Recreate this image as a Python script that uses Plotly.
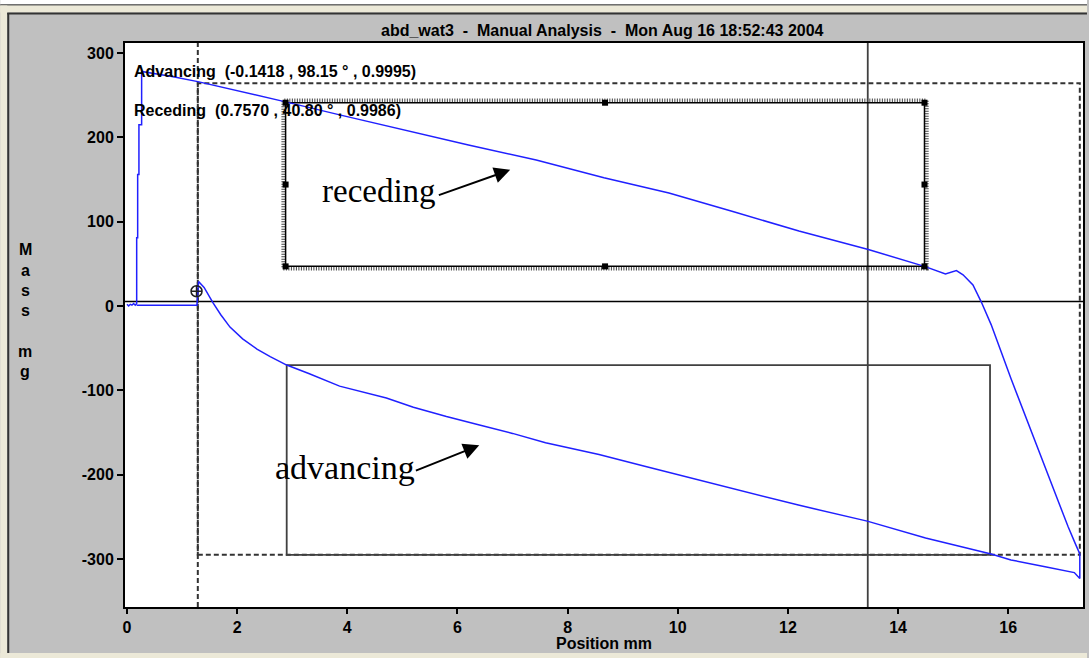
import plotly.graph_objects as go

# ---- measurement data (position in mm, mass in mg) ----
approach_pos = [0.176, 1.27]
approach_mass = [1, 1]

advancing_pos = [1.27, 1.30, 1.40, 1.56, 1.70, 1.87, 2.10, 2.36, 2.60, 2.90, 3.30,
                 3.86, 4.30, 4.71, 5.20, 5.80, 6.40, 7.00, 7.60, 8.57, 9.40, 10.38,
                 11.20, 12.19, 13.44, 14.50, 15.69, 16.05, 16.67, 17.20, 17.30]
advancing_mass = [1, 29, 22, 4, -10, -25, -39, -51, -60, -70, -80,
                  -95, -102, -109, -120, -131, -141, -151, -162, -176, -190, -206,
                  -220, -236, -255, -275, -294, -301, -309, -316, -323]

receding_pos = [17.30, 17.22, 17.09, 16.90, 16.72, 16.60, 16.42, 16.23, 16.05, 15.87,
                15.69, 15.51, 15.36, 15.18, 15.06, 14.86, 14.48, 13.46, 12.20, 11.00,
                9.84, 8.66, 7.43, 6.20, 5.00, 3.90, 2.88, 2.00, 1.286, 0.815, 0.266]
receding_mass = [-294, -282, -262, -230, -200, -179, -149, -117, -86, -54,
                 -22, 5, 25, 37, 42, 38, 47, 67, 89, 112,
                 134, 152, 173, 191, 209, 226, 242, 255, 266, 272, 278]

detach_pos = [0.266, 0.217, 0.217, 0.194, 0.194, 0.176, 0.176, 0.15, 0.12, 0.09, 0.06, 0.03, 0.0]
detach_mass = [215, 215, 156, 156, 81, 81, 3, 1, 3, 1, 2, 0, 2]

x_ticks = [0, 2, 4, 6, 8, 10, 12, 14, 16]
y_ticks = [-300, -200, -100, 0, 100, 200, 300]

title_text = "abd_wat3\u00a0\u00a0-\u00a0\u00a0Manual Analysis\u00a0\u00a0-\u00a0\u00a0Mon Aug 16 18:52:43 2004"
adv_fit_text = "Advancing\u00a0\u00a0(-0.1418 , 98.15 \u00b0 , 0.9995)"
rec_fit_text = "Receding\u00a0\u00a0(0.7570 , 40.80 \u00b0 , 0.9986)"

# analysis markers
cursor_x = 13.45          # solid vertical cursor
contact_x = 1.286         # dashed contact line
baseline_y = 5.3          # solid horizontal baseline
fit_window = dict(x0=contact_x, x1=17.30, y0=-295, y1=264)
rec_sel = dict(x0=2.88, x1=14.48, y0=47, y1=241)
adv_sel = dict(x0=2.90, x1=15.67, y0=-295, y1=-70)
contact_point = (1.263, 17.5)

X_RANGE = [-0.036, 17.358]
Y_RANGE = [-356.8, 311.8]

W, H = 1089, 658
ML, MR, MT, MB = 125, 4, 43, 51
PW, PH = W - ML - MR, H - MT - MB


def px(xp):
    return (xp - ML) / PW


def py(yp):
    return (H - MB - yp) / PH


GRAY = "#C0C0C0"
DARK = "#333333"
BOLD = dict(family="Liberation Sans, Arial, sans-serif", size=16, color="black", weight="bold")

pos = approach_pos + advancing_pos + receding_pos + detach_pos
mass = approach_mass + advancing_mass + receding_mass + detach_mass

fig = go.Figure()
fig.add_trace(go.Scatter(x=pos, y=mass, mode="lines",
                         line=dict(color="#2020ff", width=1.5), hoverinfo="skip"))

# selection handles on the receding window
hx = [rec_sel["x0"], (rec_sel["x0"] + rec_sel["x1"]) / 2, rec_sel["x1"]]
hy = [rec_sel["y0"], (rec_sel["y0"] + rec_sel["y1"]) / 2, rec_sel["y1"]]
handles_x, handles_y = [], []
for yy in hy:
    for xx in hx:
        if yy == hy[1] and xx == hx[1]:
            continue
        handles_x.append(xx)
        handles_y.append(yy)
fig.add_trace(go.Scatter(x=handles_x, y=handles_y, mode="markers",
                         marker=dict(symbol="square", size=6, color="black"),
                         hoverinfo="skip"))
fig.add_trace(go.Scatter(x=[contact_point[0]], y=[contact_point[1]], mode="markers",
                         marker=dict(symbol="circle-cross-open", size=11,
                                     color="#202020", line=dict(width=1.5)),
                         hoverinfo="skip"))

shapes = []
# window chrome
shapes += [
    dict(type="rect", xref="paper", yref="paper", x0=px(0), x1=px(W), y0=py(0), y1=py(4.5),
         fillcolor="white", line_width=0, layer="below"),
    dict(type="rect", xref="paper", yref="paper", x0=px(0), x1=px(W), y0=py(4.5), y1=py(5.5),
         fillcolor="black", line_width=0, layer="below"),
    dict(type="rect", xref="paper", yref="paper", x0=px(0), x1=px(W), y0=py(5.5), y1=py(12.5),
         fillcolor="#ECE9D8", line_width=0, layer="below"),
    dict(type="rect", xref="paper", yref="paper", x0=px(0), x1=px(7), y0=py(5.5), y1=py(H),
         fillcolor="#ECE9D8", line_width=0, layer="below"),
    dict(type="rect", xref="paper", yref="paper", x0=px(0), x1=px(W), y0=py(653), y1=py(H),
         fillcolor="#ECE9D8", line_width=0, layer="below"),
    dict(type="line", xref="paper", yref="paper", x0=px(7), x1=px(W), y0=py(13.5), y1=py(13.5),
         line=dict(color=DARK, width=2), layer="below"),
    dict(type="line", xref="paper", yref="paper", x0=px(8), x1=px(8), y0=py(13), y1=py(653),
         line=dict(color=DARK, width=2), layer="below"),
]

dash = "5px,3px"
# baseline and cursors
shapes += [
    dict(type="line", xref="paper", yref="y", x0=0, x1=1, y0=baseline_y, y1=baseline_y,
         line=dict(color="black", width=1.5), layer="below"),
    dict(type="line", xref="x", yref="paper", x0=cursor_x, x1=cursor_x, y0=0, y1=1,
         line=dict(color="#404040", width=1.8), layer="below"),
    dict(type="line", xref="x", yref="paper", x0=contact_x, x1=contact_x, y0=0, y1=1,
         line=dict(color=DARK, width=2, dash=dash), layer="below"),
    dict(type="rect", xref="x", yref="y", **fit_window,
         line=dict(color=DARK, width=2, dash=dash), layer="below"),
    dict(type="rect", xref="x", yref="y", **adv_sel,
         line=dict(color="#404040", width=1.8), layer="below"),
]
# hatched selection border (receding window)
shapes += [
    dict(type="rect", xref="x", yref="y",
         x0=rec_sel["x0"] - 0.04, x1=rec_sel["x1"] + 0.04,
         y0=rec_sel["y0"] - 2.5, y1=rec_sel["y1"] + 2.5,
         line=dict(color="#444444", width=4, dash="1px,1.5px"), layer="below"),
    dict(type="rect", xref="x", yref="y", **rec_sel,
         line=dict(color="black", width=1.5), layer="below"),
]

annotations = [
    dict(text=title_text, xref="paper", yref="paper", x=px(603), y=py(30),
         showarrow=False, font=BOLD, xanchor="center", yanchor="middle"),
    dict(text="Position mm", xref="paper", yref="paper", x=px(605), y=py(643),
         showarrow=False, font=BOLD, xanchor="center", yanchor="middle"),
    dict(text=adv_fit_text, xref="x", yref="y", x=0.09, y=278.6,
         showarrow=False, font=BOLD, xanchor="left", yanchor="middle"),
    dict(text=rec_fit_text, xref="x", yref="y", x=0.09, y=232,
         showarrow=False, font=BOLD, xanchor="left", yanchor="middle"),
    dict(text="receding", xref="x", yref="y", x=4.567, y=136.7, showarrow=False,
         font=dict(family="Liberation Serif, Times New Roman, serif", size=33, color="black"),
         xanchor="center", yanchor="middle"),
    dict(text="advancing", xref="x", yref="y", x=3.959, y=-191.1, showarrow=False,
         font=dict(family="Liberation Serif, Times New Roman, serif", size=34, color="black"),
         xanchor="center", yanchor="middle"),
    dict(text="", xref="x", yref="y", x=6.958, y=161.5, axref="x", ayref="y",
         ax=5.635, ay=130.8, showarrow=True, arrowhead=2, arrowsize=1.6,
         arrowwidth=2, arrowcolor="black", standoff=0),
    dict(text="", xref="x", yref="y", x=6.396, y=-165.1, axref="x", ayref="y",
         ax=5.218, ay=-195.9, showarrow=True, arrowhead=2, arrowsize=1.6,
         arrowwidth=2, arrowcolor="black", standoff=0),
]
# stacked y-axis title
ylabel_letters = ["M", "a", "s", "s", "m", "g"]
ylabel_rows = [249, 270, 290, 310, 351, 371]
for ch, row in zip(ylabel_letters, ylabel_rows):
    annotations.append(dict(text=ch, xref="paper", yref="paper", x=px(25), y=py(row),
                            showarrow=False, font=BOLD, xanchor="center", yanchor="middle"))

fig.update_layout(
    width=W, height=H,
    margin=dict(l=ML, r=MR, t=MT, b=MB, pad=0),
    paper_bgcolor=GRAY, plot_bgcolor="white",
    showlegend=False,
    shapes=shapes, annotations=annotations,
    xaxis=dict(range=X_RANGE, tickvals=x_ticks, ticktext=[str(v) for v in x_ticks],
               showgrid=False, zeroline=False, showline=True, linecolor="black", linewidth=2,
               mirror=True, ticks="outside", ticklen=5, tickwidth=1.5, tickcolor="black",
               tickfont=BOLD),
    yaxis=dict(range=Y_RANGE, tickvals=y_ticks, ticktext=[str(v) for v in y_ticks],
               showgrid=False, zeroline=False, showline=True, linecolor="black", linewidth=2,
               mirror=True, ticks="outside", ticklen=6, tickwidth=1.5, tickcolor="black",
               tickfont=BOLD),
)

fig.write_html("out.html")
